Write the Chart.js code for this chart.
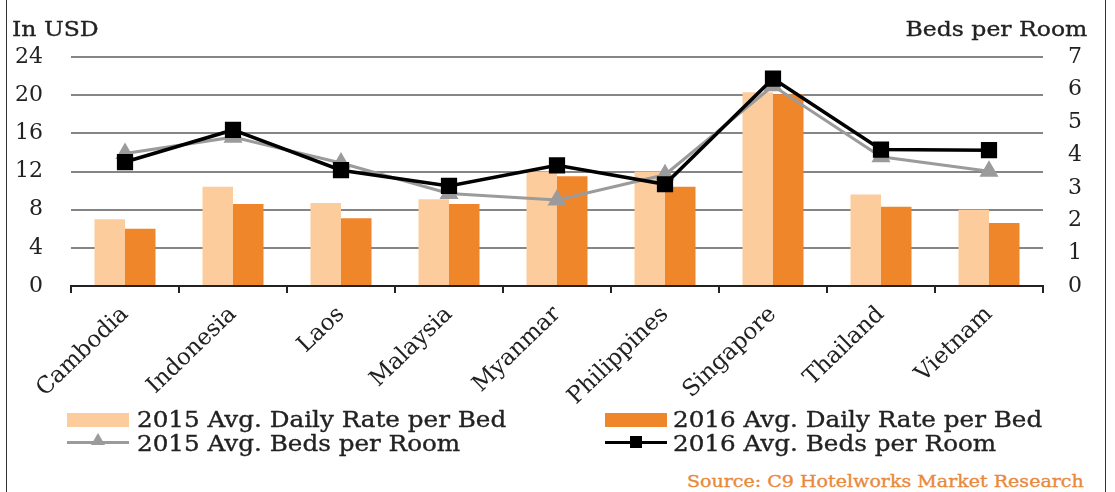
<!DOCTYPE html>
<html>
<head>
<meta charset="utf-8">
<script src="https://cdn.jsdelivr.net/npm/chart.js@4.4.1/dist/chart.umd.min.js"></script>
<style>
  body { margin: 0; background: #fff; }
  #wrap { position: relative; width: 1115px; height: 492px; overflow: hidden; font-family: "DejaVu Serif", serif; color: #222; }
  #frame { position: absolute; left: 6px; top: 0; width: 1098px; height: 492px; border-left: 1.5px solid #333; border-right: 1.5px solid #333; }
  #chart { position: absolute; left: 0; top: 0; }
  .txt { position: absolute; white-space: nowrap; -webkit-text-stroke: 0.35px currentColor; transform: scaleX(1.12); transform-origin: left top; }
  .axis-title { top: 17px; font-size: 21px; }
  .leg { font-size: 22px; line-height: 24px; }
  .sw { position: absolute; width: 62px; }
  .bar { height: 14px; }
  .ln { height: 3px; }
  .sq { position: absolute; left: 25px; top: -5px; width: 12px; height: 12px; background: #000; }
  .tri { position: absolute; left: 24px; top: -8px; width: 0; height: 0; border-left: 7px solid transparent; border-right: 7px solid transparent; border-bottom: 12px solid #9b9b9b; }
  #source { left: 687px; top: 471px; font-size: 17px; color: #e8893c; }
</style>
</head>
<body>
<div id="wrap">
  <div id="frame"></div>
  <canvas id="chart" width="1115" height="410"></canvas>
  <div class="txt axis-title" style="left:12px;">In USD</div>
  <div class="txt axis-title" style="right:28px; transform-origin: right top;">Beds per Room</div>

  <div class="sw bar" style="left:67px; top:413px; background:#fccc9c;"></div>
  <div class="txt leg" style="left:137px; top:408px;">2015 Avg. Daily Rate per Bed</div>
  <div class="sw ln" style="left:67px; top:441px; background:#9b9b9b;"><div class="tri"></div></div>
  <div class="txt leg" style="left:137px; top:432px;">2015 Avg. Beds per Room</div>

  <div class="sw bar" style="left:605px; top:413px; background:#f0862a;"></div>
  <div class="txt leg" style="left:673px; top:408px;">2016 Avg. Daily Rate per Bed</div>
  <div class="sw ln" style="left:605px; top:441px; background:#000;"><div class="sq"></div></div>
  <div class="txt leg" style="left:673px; top:432px;">2016 Avg. Beds per Room</div>

  <div id="source" class="txt">Source: C9 Hotelworks Market Research</div>
</div>

<script>
// --- DADOS ---
const paises = ['Cambodia', 'Indonesia', 'Laos', 'Malaysia', 'Myanmar', 'Philippines', 'Singapore', 'Thailand', 'Vietnam'];
const taxa2015 = [7.0, 10.4, 8.7, 9.1, 12.0, 12.0, 20.3, 9.6, 8.0];
const taxa2016 = [6.0, 8.6, 7.1, 8.6, 11.5, 10.4, 20.1, 8.3, 6.6];
const camas2015 = [4.05, 4.55, 3.76, 2.83, 2.63, 3.4, 6.12, 3.95, 3.51];
const camas2016 = [3.79, 4.77, 3.54, 3.06, 3.69, 3.11, 6.34, 4.17, 4.15];
const ticksUSD = [0, 4, 8, 12, 16, 20, 24];
const ticksCamas = [0, 1, 2, 3, 4, 5, 6, 7];

const fonteTicks = { family: 'DejaVu Serif', size: 22 };

const ctx = document.getElementById('chart').getContext('2d');
new Chart(ctx, {
    type: 'bar',
    data: {
        labels: paises,
        datasets: [
            { type: 'line', label: '2016 Avg. Beds per Room', data: camas2016, yAxisID: 'y1', order: 0,
              borderColor: '#000', backgroundColor: '#000', borderWidth: 3.5,
              pointStyle: 'rect', pointRadius: 9, tension: 0 },
            { type: 'line', label: '2015 Avg. Beds per Room', data: camas2015, yAxisID: 'y1', order: 1,
              borderColor: '#9b9b9b', backgroundColor: '#9b9b9b', borderWidth: 3,
              pointStyle: 'triangle', pointRadius: 8, tension: 0 },
            { label: '2015 Avg. Daily Rate per Bed', data: taxa2015, yAxisID: 'y', order: 2,
              backgroundColor: '#fccc9c', categoryPercentage: 0.565, barPercentage: 1 },
            { label: '2016 Avg. Daily Rate per Bed', data: taxa2016, yAxisID: 'y', order: 3,
              backgroundColor: '#f0862a', categoryPercentage: 0.565, barPercentage: 1 }
        ]
    },
    options: {
        responsive: false,
        animation: false,
        layout: { padding: { left: 0, right: 0, top: 57, bottom: 0 } },
        plugins: { legend: { display: false }, tooltip: { enabled: false } },
        scales: {
            x: {
                afterFit: (s) => { s.height = 124; },
                border: { display: true, color: '#222', width: 2 },
                grid: { display: true, drawOnChartArea: false, drawTicks: true, tickLength: 7, color: '#222', lineWidth: 2 },
                ticks: { color: '#222', font: { family: 'DejaVu Serif', size: 23 }, minRotation: 44, maxRotation: 44, padding: 8 }
            },
            y: {
                position: 'left', min: 0, max: 24,
                afterFit: (s) => { s.width = 71; },
                afterBuildTicks: (s) => { s.ticks = ticksUSD.map(v => ({ value: v })); },
                border: { display: false },
                grid: { color: '#858585', lineWidth: 2, drawTicks: false },
                ticks: { color: '#222', font: fonteTicks, padding: 28 }
            },
            y1: {
                position: 'right', min: 0, max: 7,
                afterFit: (s) => { s.width = 72; },
                afterBuildTicks: (s) => { s.ticks = ticksCamas.map(v => ({ value: v })); },
                border: { display: false },
                grid: { display: false, drawTicks: false },
                ticks: { color: '#222', font: fonteTicks, padding: 25 }
            }
        }
    }
});
</script>
</body>
</html>
